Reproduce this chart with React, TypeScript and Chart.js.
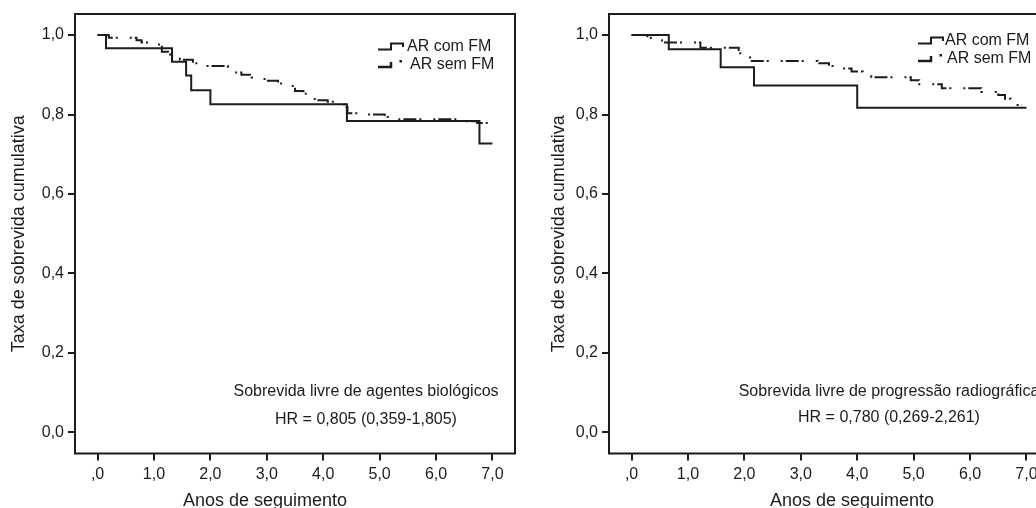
import React, { useEffect, useRef } from "react";
import { Chart, registerables } from "chart.js";

Chart.register(...registerables);

const FONT = "'Liberation Sans', Arial, Helvetica, sans-serif";
const INK = "#1c1c1c";

const xTickValues = [0, 1, 2, 3, 4, 5, 6, 7];
const xTickLabels = [",0", "1,0", "2,0", "3,0", "4,0", "5,0", "6,0", "7,0"];
const yTickValues = [0, 0.2, 0.4, 0.6, 0.8, 1.0];
const yTickLabels = ["0,0", "0,2", "0,4", "0,6", "0,8", "1,0"];

const seriesNames = ["AR com FM", "AR sem FM"];
const xTitle = "Anos de seguimento";
const yTitle = "Taxa de sobrevida cumulativa";

// Left panel: sobrevida livre de agentes biológicos
const bioNote = "Sobrevida livre de agentes biológicos";
const bioHR = "HR = 0,805 (0,359-1,805)";
const bioComTimes = [0, 0.15, 1.32, 1.57, 1.66, 2.0, 4.42, 6.77, 7.0];
const bioComSurv = [1.0, 0.967, 0.933, 0.898, 0.861, 0.826, 0.784, 0.727, 0.727];
const bioSemTimes = [0, 0.2, 0.69, 0.78, 0.96, 1.14, 1.25, 1.35, 1.46, 1.69, 1.8, 2.31, 2.55, 2.73, 2.96, 3.2, 3.37, 3.5, 3.65, 3.85, 4.08, 4.25, 4.38, 4.43, 4.61, 5.09, 5.32, 6.36, 6.73, 6.9, 7.0];
const bioSemSurv = [1.0, 0.993, 0.987, 0.981, 0.976, 0.958, 0.951, 0.945, 0.938, 0.929, 0.922, 0.906, 0.9, 0.893, 0.885, 0.878, 0.872, 0.859, 0.852, 0.836, 0.832, 0.825, 0.819, 0.803, 0.8, 0.794, 0.788, 0.783, 0.779, 0.775, 0.775];

// Right panel: sobrevida livre de progressão radiográfica
const radNote = "Sobrevida livre de progressão radiográfica";
const radHR = "HR = 0,780 (0,269-2,261)";
const radComTimes = [0, 0.66, 1.58, 2.17, 4.0, 7.0];
const radComSurv = [1.0, 0.964, 0.919, 0.873, 0.817, 0.817];
const radSemTimes = [0, 0.28, 0.34, 0.54, 1.22, 1.9, 2.0, 2.1, 3.3, 3.5, 3.63, 3.9, 4.1, 4.25, 4.95, 5.1, 5.5, 6.2, 6.5, 6.62, 6.72, 6.82, 6.92];
const radSemSurv = [1.0, 0.993, 0.987, 0.981, 0.968, 0.954, 0.944, 0.935, 0.929, 0.922, 0.916, 0.908, 0.901, 0.894, 0.886, 0.876, 0.866, 0.857, 0.849, 0.84, 0.832, 0.824, 0.824];

type PanelProps = {
  left: number;
  width: number;
  comT: number[];
  comS: number[];
  semT: number[];
  semS: number[];
  note: string;
  hr: string;
  noteX: number;
  noteY1: number;
  noteY2: number;
  xTitleX: number;
  yTitleX: number;
  legX: number;
  legY1: number;
  legY2: number;
  comDx: number;
  semDx: number;
};

const H = 508;
const AREA_LEFT = 75;
const AREA_RIGHT = 515;
const AREA_TOP = 14;
const AREA_BOTTOM = 453.5;

function makeDecor(p: PanelProps) {
  return {
    id: "decor",
    afterDraw(chart: any) {
      const ctx = chart.ctx as CanvasRenderingContext2D;
      const a = chart.chartArea;
      ctx.save();
      ctx.strokeStyle = INK;
      ctx.fillStyle = INK;
      ctx.lineWidth = 2;
      ctx.strokeRect(a.left, a.top, a.right - a.left, a.bottom - a.top);

      // annotation
      ctx.font = `16px ${FONT}`;
      ctx.textAlign = "center";
      ctx.textBaseline = "middle";
      ctx.fillText(p.note, p.noteX, p.noteY1);
      ctx.fillText(p.hr, p.noteX, p.noteY2);

      // x title
      ctx.font = `18px ${FONT}`;
      ctx.textBaseline = "alphabetic";
      ctx.fillText(xTitle, p.xTitleX, 506);

      // y title
      ctx.save();
      ctx.translate(p.yTitleX, (a.top + a.bottom) / 2);
      ctx.rotate(-Math.PI / 2);
      ctx.textBaseline = "middle";
      ctx.fillText(yTitle, 0, 0);
      ctx.restore();

      // legend
      const lx = p.legX;
      ctx.font = `16px ${FONT}`;
      ctx.textAlign = "left";
      ctx.textBaseline = "middle";
      ctx.lineWidth = 2;
      ctx.beginPath();
      ctx.moveTo(lx, p.legY1 + 3.5);
      ctx.lineTo(lx + 13, p.legY1 + 3.5);
      ctx.lineTo(lx + 13, p.legY1 - 2.5);
      ctx.lineTo(lx + 25, p.legY1 - 2.5);
      ctx.lineTo(lx + 25, p.legY1 + 1);
      ctx.stroke();
      ctx.fillText(seriesNames[0], lx + p.comDx, p.legY1 + 1);

      ctx.lineWidth = 2.5;
      ctx.beginPath();
      ctx.moveTo(lx, p.legY2 + 3);
      ctx.lineTo(lx + 13, p.legY2 + 3);
      ctx.lineTo(lx + 13, p.legY2 - 2);
      ctx.stroke();
      ctx.fillRect(lx + 21.5, p.legY2 - 4, 2.5, 2.5);
      ctx.fillText(seriesNames[1], lx + p.semDx, p.legY2 + 1);
      ctx.restore();
    },
  };
}

function KMPanel(p: PanelProps) {
  const ref = useRef<HTMLCanvasElement | null>(null);
  useEffect(() => {
    const canvas = ref.current;
    if (!canvas) return;
    const chart = new Chart(canvas, {
      type: "line",
      data: {
        datasets: [
          {
            label: seriesNames[0],
            data: p.comT.map((t, i) => ({ x: t, y: p.comS[i] })),
            stepped: "before",
            borderColor: INK,
            borderWidth: 2,
            pointRadius: 0,
            fill: false,
          },
          {
            label: seriesNames[1],
            data: p.semT.map((t, i) => ({ x: t, y: p.semS[i] })),
            stepped: "before",
            borderColor: INK,
            borderWidth: 2,
            borderDash: [2, 3, 13, 3, 2, 12],
            pointRadius: 0,
            fill: false,
          },
        ],
      },
      options: {
        animation: false,
        responsive: false,
        maintainAspectRatio: false,
        layout: {
          padding: { left: 0, top: AREA_TOP, right: p.width - AREA_RIGHT, bottom: 0 },
        },
        plugins: { legend: { display: false }, tooltip: { enabled: false } },
        scales: {
          x: {
            type: "linear",
            min: -0.4,
            max: 7.4,
            afterBuildTicks: (s: any) => {
              s.ticks = xTickValues.map((v) => ({ value: v }));
            },
            afterFit: (s: any) => {
              s.height = H - AREA_BOTTOM;
            },
            grid: { drawOnChartArea: false, drawTicks: true, tickLength: 7, color: INK, lineWidth: 2 },
            border: { display: false },
            ticks: {
              padding: 4,
              color: INK,
              font: { size: 16, family: FONT },
              autoSkip: false,
              maxRotation: 0,
              callback: (v: any) => {
                const i = xTickValues.indexOf(Number(v));
                return i >= 0 ? xTickLabels[i] : "";
              },
            },
          },
          y: {
            type: "linear",
            min: -0.053,
            max: 1.053,
            afterBuildTicks: (s: any) => {
              s.ticks = yTickValues.map((v) => ({ value: v }));
            },
            afterFit: (s: any) => {
              s.width = AREA_LEFT;
            },
            grid: { drawOnChartArea: false, drawTicks: true, tickLength: 7, color: INK, lineWidth: 2 },
            border: { display: false },
            ticks: {
              padding: 4,
              color: INK,
              font: { size: 16, family: FONT },
              autoSkip: false,
              callback: (v: any) => {
                const i = yTickValues.indexOf(Number(v));
                return i >= 0 ? yTickLabels[i] : "";
              },
            },
          },
        },
      },
      plugins: [makeDecor(p)],
    } as any);
    return () => chart.destroy();
  }, []);
  return (
    <canvas
      ref={ref}
      width={p.width}
      height={H}
      style={{ position: "absolute", left: p.left, top: 0, width: p.width, height: H }}
    />
  );
}

export default function App() {
  return (
    <div
      style={{
        position: "fixed",
        left: 0,
        top: 0,
        width: 1036,
        height: 508,
        overflow: "hidden",
        background: "#ffffff",
      }}
    >
      <KMPanel
        left={0}
        width={534}
        comT={bioComTimes}
        comS={bioComSurv}
        semT={bioSemTimes}
        semS={bioSemSurv}
        note={bioNote}
        hr={bioHR}
        noteX={366}
        noteY1={392}
        noteY2={420}
        xTitleX={265}
        yTitleX={19}
        legX={378}
        legY1={46}
        legY2={64}
        comDx={29}
        semDx={32}
      />
      <KMPanel
        left={534}
        width={540}
        comT={radComTimes}
        comS={radComSurv}
        semT={radSemTimes}
        semS={radSemSurv}
        note={radNote}
        hr={radHR}
        noteX={355}
        noteY1={392}
        noteY2={418}
        xTitleX={318}
        yTitleX={25}
        legX={384}
        legY1={40}
        legY2={58}
        comDx={27}
        semDx={29}
      />
    </div>
  );
}
